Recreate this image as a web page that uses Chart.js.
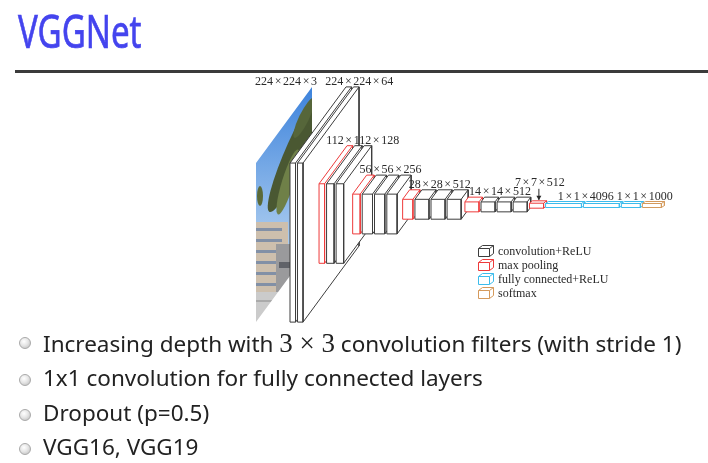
<!DOCTYPE html>
<html>
<head>
<meta charset="utf-8">
<script src="https://cdn.jsdelivr.net/npm/chart.js@4.4.0/dist/chart.umd.min.js"></script>
<style>
  html, body { margin: 0; padding: 0; background: #fff; width: 708px; height: 463px; overflow: hidden; }
  #slide { position: relative; width: 708px; height: 463px; }
  #net { position: absolute; left: 0; top: 0; }
  .title { position: absolute; left: 18px; top: 7px; font-family: 'Noto Sans', sans-serif; font-size: 46px; line-height: 1;
           color: #4444ee; -webkit-text-stroke: 0.7px #4444ee; transform: scaleX(0.72); transform-origin: left top; white-space: nowrap; }
  .rule { position: absolute; left: 15px; top: 70px; width: 693px; height: 3px; background: #3b3b3b; }
  .item { position: absolute; left: 0; height: 26px; white-space: nowrap; }
  .dot { position: absolute; left: 19px; top: 7px; width: 12px; height: 12px; border-radius: 50%; box-sizing: border-box;
         border: 1px solid #a9a9a9; background: radial-gradient(circle at 40% 35%, #ffffff 0%, #e6e6e6 45%, #b9b9b9 100%); }
  .txt { position: absolute; left: 43px; top: 0; font-family: 'Noto Sans', sans-serif; font-size: 22.5px; line-height: 1;
         color: #222; }
  .math { font-family: 'Liberation Serif', serif; font-size: 27px; }
</style>
</head>
<body>
<div id="slide">
  <canvas id="net" width="708" height="463"></canvas>
  <div class="title">VGGNet</div>
  <div class="rule"></div>
  <div class="item" style="top:330px"><span class="dot"></span><span class="txt">Increasing depth with <span class="math">3 × 3</span> convolution filters (with stride 1)</span></div>
  <div class="item" style="top:367px"><span class="dot"></span><span class="txt">1x1 convolution for fully connected layers</span></div>
  <div class="item" style="top:402px"><span class="dot"></span><span class="txt">Dropout (p=0.5)</span></div>
  <div class="item" style="top:436px"><span class="dot"></span><span class="txt">VGG16, VGG19</span></div>
</div>
<script>
// Layers of VGG16, left to right
const layerKinds = ['image', 'conv', 'conv', 'pool', 'conv', 'conv', 'pool', 'conv', 'conv', 'conv', 'pool',
                    'conv', 'conv', 'conv', 'pool', 'conv', 'conv', 'conv', 'pool', 'fc', 'fc', 'fc', 'softmax'];
const layerSize = [224, 224, 224, 112, 112, 112, 56, 56, 56, 56, 28, 28, 28, 28, 14, 14, 14, 14, 7, 1, 1, 1, 1];
const layerChannels = [3, 64, 64, 64, 128, 128, 128, 256, 256, 256, 256, 512, 512, 512, 512, 512, 512, 512, 512,
                       4096, 4096, 1000, 1000];

// Shape labels and the layers each one spans
const shapeLabels = ['224 × 224 × 3', '224 × 224 × 64', '112 × 112 × 128', '56 × 56 × 256', '28 × 28 × 512',
                     '14 × 14 × 512', '7 × 7 × 512', '1 × 1 × 4096', '1 × 1 × 1000'];
const labelFrom = [0, 1, 3, 6, 10, 14, 18, 19, 21];
const labelTo = [0, 2, 5, 9, 13, 17, 18, 20, 22];

// Legend
const legendKinds = ['conv', 'pool', 'fc', 'softmax'];
const legendText = ['convolution+ReLU', 'max pooling', 'fully connected+ReLU', 'softmax'];

const kindColor = { conv: '#3d3d3d', pool: '#ee3b3b', fc: '#3cbcec', softmax: '#d59a5c' };

// layout of the 3D boxes (pixels == data units, see scales below)
const AXIS_Y = 204.5;
const START_X = 318;
const INPUT_GAP = 34;
const GAP = 2;

function thickness(c) { return 0.85 * Math.pow(c, 0.45); }

const boxes = [];
let cursor = START_X;
layerKinds.forEach((kind, i) => {
  const s = layerSize[i];
  const w = kind === 'image' ? 0 : thickness(layerChannels[i]);
  let a;
  if (kind === 'image') {
    a = START_X - INPUT_GAP;
  } else {
    a = cursor;
    cursor += w + GAP;
  }
  const dx = Math.max(0.25 * s, 3);
  const dy = Math.max(0.34 * s, 2);
  const h = Math.max(0.71 * s, 4);
  const x0 = a - dx / 2;
  const x1 = x0 + w;
  const yb = AXIS_Y + dy / 2 + h / 2;
  const yt = yb - h;
  boxes.push({ kind, x0, x1, yb, yt, dx, dy });
});

// rough texture for the input photo
let photo = null;
function photoPattern(ctx) {
  if (photo) return photo;
  const c = document.createElement('canvas');
  c.width = 708; c.height = 463;
  const g = c.getContext('2d');
  const sky = g.createLinearGradient(0, 90, 0, 240);
  sky.addColorStop(0, '#3f84dc');
  sky.addColorStop(1, '#a9cbef');
  g.fillStyle = sky;
  g.fillRect(240, 80, 90, 250);
  g.fillStyle = '#4a5832';
  g.beginPath(); g.ellipse(298, 148, 11, 70, 0.42, 0, Math.PI * 2); g.fill();
  g.fillStyle = '#6f8048';
  g.beginPath(); g.ellipse(288, 182, 6, 34, 0.3, 0, Math.PI * 2); g.fill();
  g.fillStyle = '#56663a';
  g.beginPath(); g.ellipse(304, 118, 5, 22, 0.45, 0, Math.PI * 2); g.fill();
  g.fillStyle = '#5b6a38';
  g.beginPath(); g.ellipse(260, 196, 3, 10, 0, 0, Math.PI * 2); g.fill();
  g.fillStyle = '#cdbfad';
  g.fillRect(254, 222, 34, 70);
  g.fillStyle = '#8290a6';
  for (let y = 228; y < 290; y += 11) g.fillRect(256, y, 26, 3);
  g.fillStyle = '#9a9a9c';
  g.fillRect(276, 244, 18, 50);
  g.fillStyle = '#606268';
  g.fillRect(279, 262, 12, 6);
  g.fillStyle = '#cbcbcb';
  g.fillRect(240, 292, 90, 40);
  g.fillStyle = '#aaaaaa';
  g.fillRect(240, 300, 90, 2);
  photo = ctx.createPattern(c, 'no-repeat');
  return photo;
}

const datasets = [];
boxes.forEach((b) => {
  const A = { x: b.x0, y: b.yb };
  const B = { x: b.x0, y: b.yt };
  const C = { x: b.x0 + b.dx, y: b.yt - b.dy };
  if (b.kind === 'image') {
    const E = { x: b.x0 + b.dx, y: b.yb - b.dy };
    datasets.push({
      data: [A, B, C, E, A],
      showLine: true, fill: 'shape', borderWidth: 0, borderColor: 'rgba(0,0,0,0)',
      backgroundColor: (ctx) => photoPattern(ctx.chart.ctx),
      pointRadius: 0, pointHitRadius: 0
    });
    return;
  }
  const D = { x: b.x1 + b.dx, y: b.yt - b.dy };
  const E = { x: b.x1 + b.dx, y: b.yb - b.dy };
  const F = { x: b.x1, y: b.yb };
  const G = { x: b.x1, y: b.yt };
  const col = kindColor[b.kind];
  datasets.push({
    data: [A, B, C, D, E, F, A],
    showLine: true, fill: 'shape', backgroundColor: '#ffffff', borderColor: col, borderWidth: 1,
    pointRadius: 0, pointHitRadius: 0
  });
  datasets.push({
    data: [B, G, F, { x: null, y: null }, G, D],
    showLine: true, fill: false, borderColor: col, borderWidth: 1,
    pointRadius: 0, pointHitRadius: 0
  });
});
// leftmost boxes are painted first so the next ones cover them
datasets.forEach((d, k) => { d.order = datasets.length - k; d.clip = false; });

// draws "a × b × c" with tight spacing round the × signs
function tightText(ctx, txt, px, py, align) {
  const parts = txt.split(' ');
  const pad = 1.6;
  const widths = parts.map(p => ctx.measureText(p).width);
  const total = widths.reduce((s, w) => s + w, 0) + pad * (parts.length - 1);
  let cur = align === 'right' ? px - total : align === 'center' ? px - total / 2 : px;
  ctx.textAlign = 'left';
  parts.forEach((p, k) => {
    ctx.fillText(p, cur, py);
    cur += widths[k] + pad;
  });
}

const annotate = {
  id: 'annotate',
  afterDatasetsDraw(chart) {
    const { ctx, scales: { x, y } } = chart;
    ctx.save();
    ctx.fillStyle = '#2a2a2a';
    ctx.strokeStyle = '#2a2a2a';
    ctx.font = '12px "Liberation Serif", serif';
    ctx.textBaseline = 'middle';
    shapeLabels.forEach((txt, j) => {
      const f = boxes[labelFrom[j]], t = boxes[labelTo[j]];
      const left = f.x0 + f.dx, right = t.x1 + t.dx;
      const top = Math.min(f.yt - f.dy, t.yt - t.dy);
      let cx = (left + right) / 2 + 0.12 * f.dx;
      let cy = top - 5;
      if (f.kind === 'image') {
        tightText(ctx, txt, x.getPixelForValue(right + 5), y.getPixelForValue(cy), 'right');
        return;
      }
      if (labelFrom[j] === labelTo[j] && f.kind === 'pool') {
        cy = top - 18;
        const ax = x.getPixelForValue(cx - 1);
        ctx.lineWidth = 1;
        ctx.beginPath();
        ctx.moveTo(ax, y.getPixelForValue(cy + 6));
        ctx.lineTo(ax, y.getPixelForValue(top - 1));
        ctx.stroke();
        ctx.beginPath();
        ctx.moveTo(ax - 2.5, y.getPixelForValue(top - 5));
        ctx.lineTo(ax, y.getPixelForValue(top - 0.5));
        ctx.lineTo(ax + 2.5, y.getPixelForValue(top - 5));
        ctx.closePath();
        ctx.fill();
      }
      tightText(ctx, txt, x.getPixelForValue(cx), y.getPixelForValue(cy), 'center');
    });

    // legend with little 3D boxes
    ctx.textAlign = 'left';
    ctx.font = '12px "Liberation Serif", serif';
    legendKinds.forEach((k, j) => {
      const ly = 251 + j * 14;
      const lx = 478;
      ctx.strokeStyle = kindColor[k];
      ctx.lineWidth = 1;
      ctx.beginPath();
      ctx.rect(lx + 0.5, ly - 2.5, 11, 8);
      ctx.moveTo(lx + 0.5, ly - 2.5);
      ctx.lineTo(lx + 4.5, ly - 5.5);
      ctx.lineTo(lx + 15.5, ly - 5.5);
      ctx.lineTo(lx + 15.5, ly + 2.5);
      ctx.lineTo(lx + 11.5, ly + 5.5);
      ctx.moveTo(lx + 11.5, ly - 2.5);
      ctx.lineTo(lx + 15.5, ly - 5.5);
      ctx.stroke();
      ctx.fillStyle = '#2a2a2a';
      ctx.fillText(legendText[j], lx + 20, ly + 0.5);
    });
    ctx.restore();
  }
};

new Chart(document.getElementById('net').getContext('2d'), {
  type: 'scatter',
  data: { datasets },
  options: {
    responsive: false,
    animation: false,
    events: [],
    layout: { padding: 0 },
    elements: { line: { tension: 0 } },
    scales: {
      x: { type: 'linear', min: 0, max: 708, display: false },
      y: { type: 'linear', min: 0, max: 463, reverse: true, display: false }
    },
    plugins: {
      legend: { display: false },
      tooltip: { enabled: false }
    }
  },
  plugins: [annotate]
});
</script>
</body>
</html>
